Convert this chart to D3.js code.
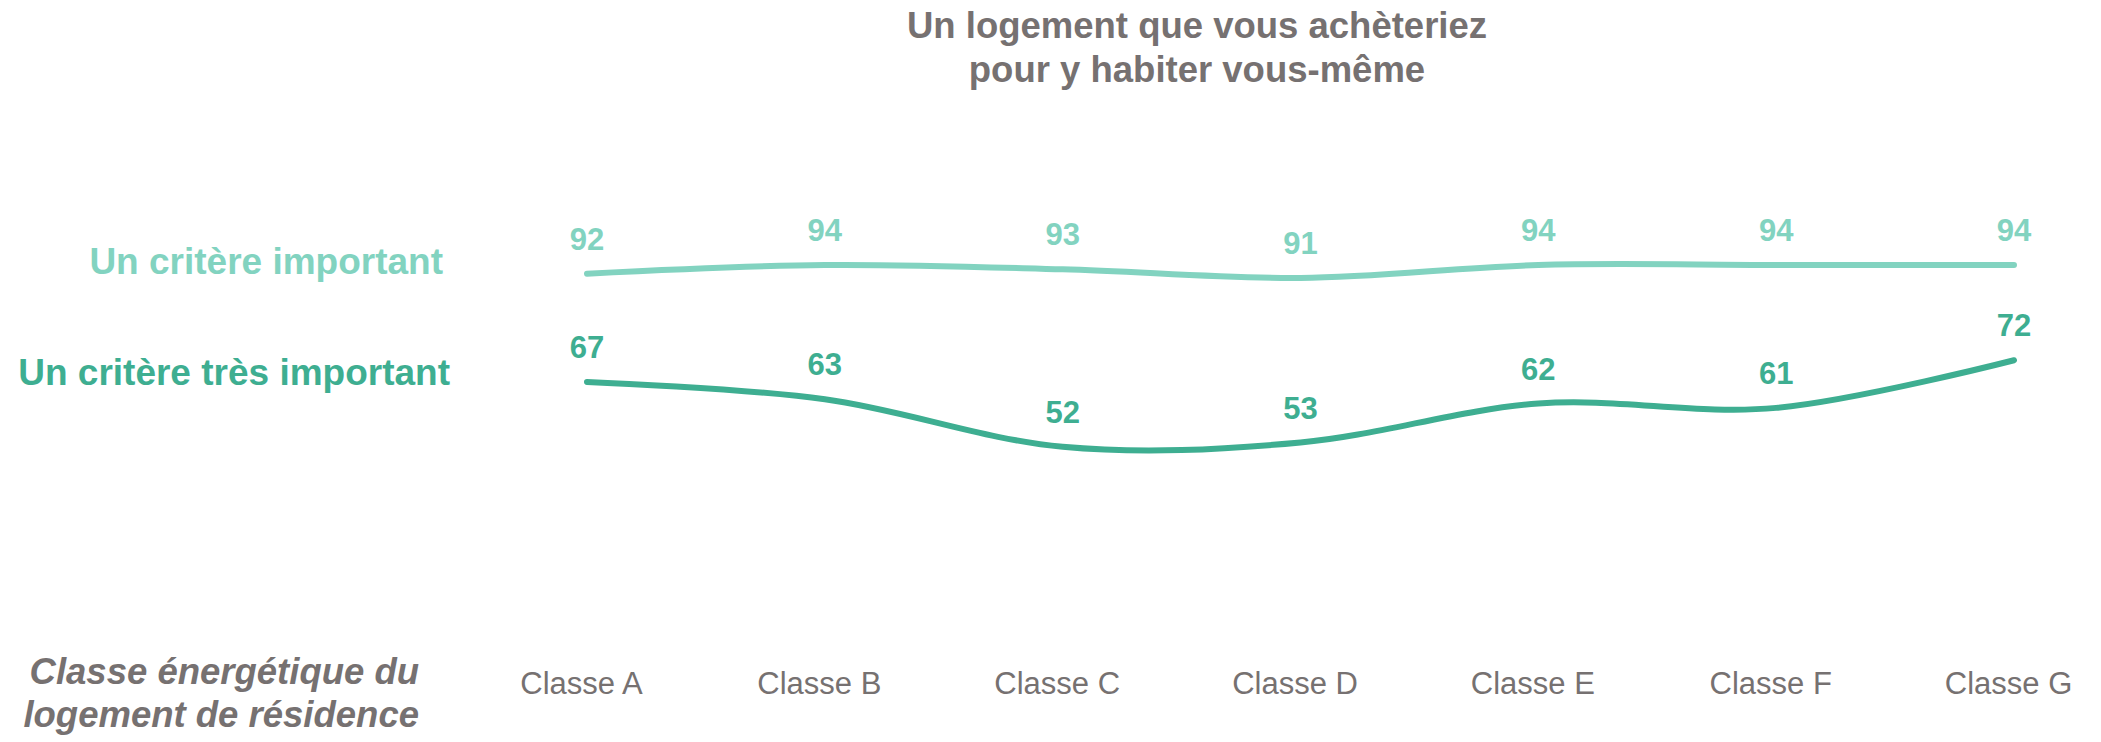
<!DOCTYPE html>
<html lang="fr">
<head>
<meta charset="utf-8">
<title>Un logement que vous achèteriez pour y habiter vous-même</title>
<script src="https://cdn.jsdelivr.net/npm/d3@7/dist/d3.min.js"></script>
<style>
  html, body { margin: 0; padding: 0; background: #ffffff; }
  svg { display: block; font-family: "Liberation Sans", Arial, Helvetica, sans-serif; }
</style>
</head>
<body>
<svg id="chart" width="2101" height="742"></svg>
<script>
// Energy class of the current residence
const categories = ["Classe A", "Classe B", "Classe C", "Classe D", "Classe E", "Classe F", "Classe G"];

// Share (%) saying energy class is a criterion when buying a home to live in
const importantValues = [92, 94, 93, 91, 94, 94, 94];
const veryImportantValues = [67, 63, 52, 53, 62, 61, 72];

const seriesNames = ["Un critère important", "Un critère très important"];
const titleLines = ["Un logement que vous achèteriez", "pour y habiter vous-même"];
const axisTitleLines = ["Classe énergétique du", "logement de résidence"];

const W = 2101, H = 742;
const grey = "#767171";

const series = [
  { name: seriesNames[0], values: importantValues, color: "#82d3c0", labelX: 443, labelDy: 0 },
  { name: seriesNames[1], values: veryImportantValues, color: "#3eae91", labelX: 450, labelDy: 3 }
];

const svg = d3.select("#chart");
svg.append("rect").attr("width", W).attr("height", H).attr("fill", "#ffffff");

const x = d3.scalePoint().domain(categories).range([587, 2014]);
const y = d3.scaleLinear().domain([0, 100]).range([672, 239]);

// Title
svg.append("text")
  .attr("x", 1197)
  .attr("y", 38)
  .attr("text-anchor", "middle")
  .attr("fill", grey)
  .attr("font-weight", "bold")
  .attr("font-size", 36.5)
  .selectAll("tspan")
  .data(titleLines)
  .join("tspan")
  .attr("x", 1197)
  .attr("dy", (d, i) => i === 0 ? 0 : 44)
  .text(d => d);

// Smoothed lines, value labels and series names
const line = d3.line()
  .x((d, i) => x(categories[i]))
  .y(d => y(d))
  .curve(d3.curveCardinal.tension(0));

const g = svg.selectAll("g.series")
  .data(series)
  .join("g")
  .attr("class", "series");

g.append("path")
  .attr("d", d => line(d.values))
  .attr("fill", "none")
  .attr("stroke", d => d.color)
  .attr("stroke-width", 6)
  .attr("stroke-linecap", "round")
  .attr("stroke-linejoin", "round");

g.each(function (s) {
  d3.select(this).selectAll("text.value")
    .data(s.values)
    .join("text")
    .attr("class", "value")
    .attr("x", (d, i) => x(categories[i]))
    .attr("y", d => y(d) - 24)
    .attr("text-anchor", "middle")
    .attr("fill", s.color)
    .attr("font-weight", "bold")
    .attr("font-size", 31)
    .text(d => d);
});

g.append("text")
  .attr("x", d => d.labelX)
  .attr("y", d => y(d.values[0]) + d.labelDy)
  .attr("text-anchor", "end")
  .attr("fill", d => d.color)
  .attr("font-weight", "bold")
  .attr("font-size", 37)
  .text(d => d.name);

// Category axis (labels only)
const xAxis = d3.axisBottom(x).tickSize(0).tickPadding(0);
const axisG = svg.append("g")
  .attr("transform", "translate(-6, 672)")
  .call(xAxis);
axisG.select(".domain").remove();
axisG.selectAll(".tick text")
  .attr("y", 22)
  .attr("dy", 0)
  .attr("fill", grey)
  .attr("font-size", 31)
  .attr("font-family", "\"Liberation Sans\", Arial, sans-serif");

// Axis title
svg.append("text")
  .attr("x", 419)
  .attr("y", 684)
  .attr("text-anchor", "end")
  .attr("fill", grey)
  .attr("font-weight", "bold")
  .attr("font-style", "italic")
  .attr("font-size", 36.5)
  .selectAll("tspan")
  .data(axisTitleLines)
  .join("tspan")
  .attr("x", 419)
  .attr("dy", (d, i) => i === 0 ? 0 : 43)
  .text(d => d);
</script>
</body>
</html>
